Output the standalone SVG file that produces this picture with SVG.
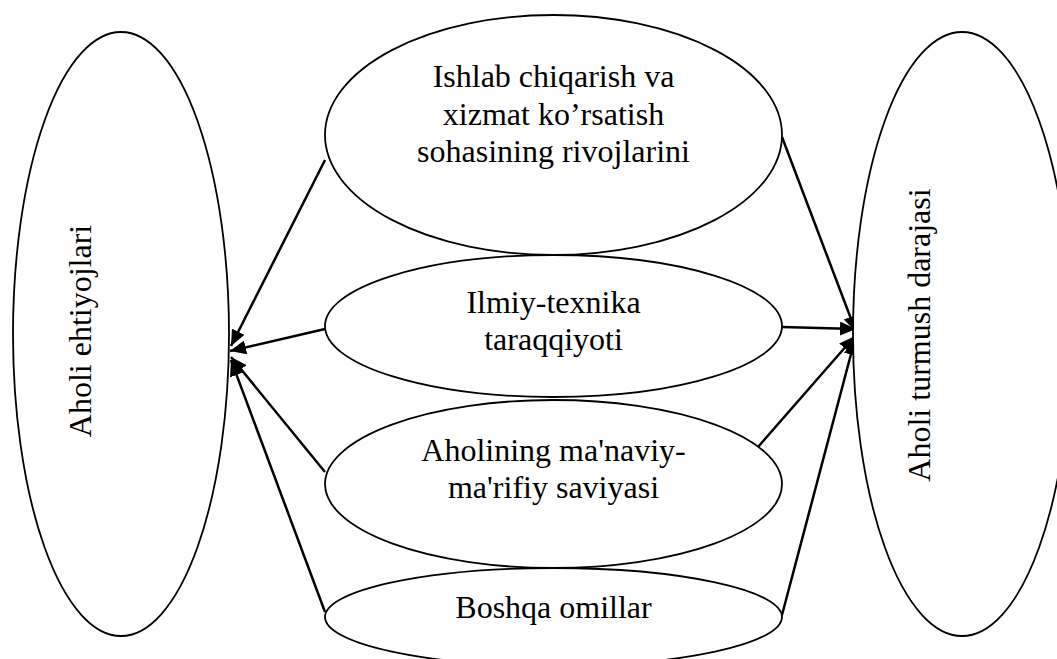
<svg xmlns="http://www.w3.org/2000/svg" width="1057" height="659" viewBox="0 0 1057 659">
<style>
.shape{fill:#ffffff;stroke:#000000;stroke-width:1.8}
.lbl{font-family:"Liberation Serif","Times New Roman",serif;font-size:32px;fill:#000000;text-anchor:middle}
.conn{stroke:#000000;stroke-width:2.5;fill:none;marker-end:url(#ah)}
</style>
<defs>
<marker id="ah" markerUnits="userSpaceOnUse" markerWidth="18" markerHeight="14" refX="16" refY="7" orient="auto">
<path d="M0,0 L16,7 L0,14 Z" fill="#000000"/>
</marker>
</defs>
<rect width="1057" height="659" fill="#ffffff"/>
<g id="connectors">
<line class="conn" x1="325" y1="160" x2="231" y2="346"/>
<line class="conn" x1="325" y1="329" x2="230" y2="351"/>
<line class="conn" x1="325" y1="472" x2="231" y2="357"/>
<line class="conn" x1="325" y1="612" x2="231" y2="360"/>
<line class="conn" x1="782" y1="137" x2="856" y2="332"/>
<line class="conn" x1="782" y1="327" x2="856" y2="329"/>
<line class="conn" x1="758" y1="447" x2="855" y2="336"/>
<line class="conn" x1="782" y1="615" x2="855" y2="339"/>
</g>
<g id="node-top">
<ellipse class="shape" cx="553.5" cy="135" rx="228.5" ry="120"/>
<text class="lbl" x="553.5" y="87">Ishlab chiqarish va</text>
<text class="lbl" x="553.5" y="125">xizmat ko’rsatish</text>
<text class="lbl" x="553.5" y="162">sohasining rivojlarini</text>
</g>
<g id="node-ilmiy">
<ellipse class="shape" cx="553.5" cy="326" rx="228.5" ry="71"/>
<text class="lbl" x="553.5" y="313">Ilmiy-texnika</text>
<text class="lbl" x="553.5" y="350">taraqqiyoti</text>
</g>
<g id="node-aholining">
<ellipse class="shape" cx="553.5" cy="484" rx="228.5" ry="84"/>
<text class="lbl" x="553.5" y="461">Aholining ma'naviy-</text>
<text class="lbl" x="553.5" y="498">ma'rifiy saviyasi</text>
</g>
<g id="node-boshqa">
<ellipse class="shape" cx="553.5" cy="617" rx="228.5" ry="49"/>
<text class="lbl" x="553.5" y="618">Boshqa omillar</text>
</g>
<g id="node-ehtiyojlari">
<ellipse class="shape" cx="121" cy="334" rx="108" ry="302"/>
<text class="lbl" transform="translate(91,331) rotate(-90)">Aholi ehtiyojlari</text>
</g>
<g id="node-turmush">
<ellipse class="shape" cx="962" cy="334" rx="109" ry="302"/>
<text class="lbl" transform="translate(930,335) rotate(-90)">Aholi turmush darajasi</text>
</g>
</svg>
